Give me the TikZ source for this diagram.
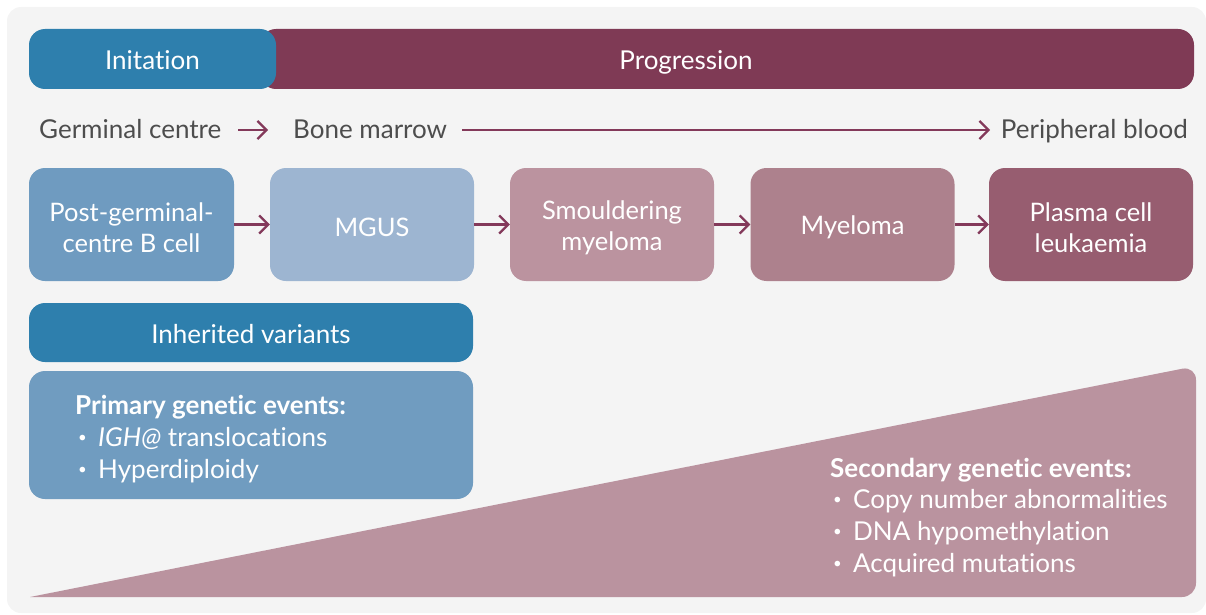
\documentclass[tikz,border=0pt]{standalone}
\usepackage{fontspec}
\setmainfont{Lato}[Ligatures={NoCommon}]
\usetikzlibrary{arrows.meta}
\definecolor{bgc}{HTML}{F4F4F4}
\definecolor{initblue}{HTML}{2E7FAD}
\definecolor{prog}{HTML}{7F3A55}
\definecolor{arrowc}{HTML}{83395A}
\definecolor{txtgray}{HTML}{4D4D4D}
\definecolor{bA}{HTML}{6F9BC0}
\definecolor{bB}{HTML}{9DB5D1}
\definecolor{bC}{HTML}{BB939F}
\definecolor{bD}{HTML}{AD818D}
\definecolor{bE}{HTML}{975D70}
\definecolor{prim}{HTML}{709CC0}
\definecolor{tri}{HTML}{BA939F}
\tikzset{
  stagebox/.style={rounded corners=16pt, minimum width=204pt, minimum height=113pt, inner sep=0pt},
  stagetext/.style={text=white, align=center, font=\fontsize{25.5}{31}\selectfont, inner sep=0pt},
  barbox/.style={rounded corners=16pt, inner sep=0pt},
  flowarrow/.style={draw=arrowc, line width=2.3pt, -{Straight Barb[length=9pt,width=18pt]}},
  rowlabel/.style={text=txtgray, font=\fontsize{26}{30}\selectfont, inner sep=0pt},
  whitetxt/.style={text=white, font=\fontsize{26}{30}\selectfont, inner sep=0pt},
}
\newcommand{\bul}{\makebox[23pt][l]{\hspace{3pt}\raisebox{3.5pt}{\fontsize{15}{15}\selectfont •}}}
\begin{document}
\begin{tikzpicture}[x=1pt,y=-1pt]
\useasboundingbox (0,0) rectangle (1206,615);
\fill[bgc, rounded corners=14pt] (7,7) rectangle (1206,613);
% top bars
\node[barbox, fill=prog, minimum width=934pt, minimum height=60pt] (progbar) at (727,59) {};
\node[barbox, fill=initblue, minimum width=247pt, minimum height=60pt] (initbar) at (152.5,59) {};
\node[whitetxt, anchor=base] (inittxt) at (152.5,70) {Initation};
\node[whitetxt, anchor=base] (progtxt) at (686,70) {Progression};
% location row
\node[rowlabel, anchor=base west] (germ) at (39,139) {Germinal centre};
\node[rowlabel, anchor=base west] (bone) at (293,139) {Bone marrow};
\node[rowlabel, anchor=base east] (blood) at (1188,139) {Peripheral blood};
\coordinate (a1s) at (238,130);
\coordinate (a1e) at (268,130);
\coordinate (a2s) at (462,130);
\coordinate (a2e) at (990,130);
\draw[flowarrow] (a1s) -- (a1e);
\draw[flowarrow] (a2s) -- (a2e);
% stage boxes
\node[stagebox, fill=bA, minimum width=205pt] (s1) at (131.5,224.5) {};
\node[stagebox, fill=bB] (s2) at (372,224.5) {};
\node[stagebox, fill=bC] (s3) at (612,224.5) {};
\node[stagebox, fill=bD] (s4) at (852.5,224.5) {};
\node[stagebox, fill=bE] (s5) at (1091,224.5) {};
\node[stagetext] (t1) at ([yshift=-3pt]s1.center) {Post-germinal-\\centre B cell};
\node[stagetext] (t2) at ([yshift=-3pt]s2.center) {MGUS};
\node[stagetext] (t3) at ([yshift=-3pt]s3.center) {Smouldering\\myeloma};
\node[stagetext] (t4) at ([yshift=-3pt]s4.center) {Myeloma};
\node[stagetext] (t5) at ([yshift=-3pt]s5.center) {Plasma cell\\leukaemia};
\draw[flowarrow] (s1) -- (s2);
\draw[flowarrow] (s2) -- (s3);
\draw[flowarrow] (s3) -- (s4);
\draw[flowarrow] (s4) -- (s5);
% inherited / primary
\node[barbox, fill=initblue, minimum width=444pt, minimum height=59pt] (inh) at (251,332.5) {};
\node[whitetxt, anchor=base] (inhtxt) at (251,343) {Inherited variants};
\node[barbox, fill=prim, minimum width=444pt, minimum height=128pt] (primbox) at (251,435) {};
\node[whitetxt, anchor=base west, font=\fontsize{26}{30}\bfseries] (p0) at (75,414) {Primary genetic events:};
\node[whitetxt, anchor=base west] (p1) at (75,446) {\bul\textit{IGH@} translocations};
\node[whitetxt, anchor=base west] (p2) at (75,478) {\bul Hyperdiploidy};
% triangle
\fill[tri] (30,597) [rounded corners=14pt] -- (1196,366) -- (1196,597) [sharp corners] -- cycle;
\node[whitetxt, anchor=base west, font=\fontsize{26}{30}\bfseries] (q0) at (830,477) {Secondary genetic events:};
\node[whitetxt, anchor=base west] (q1) at (830,508) {\bul Copy number abnormalities};
\node[whitetxt, anchor=base west] (q2) at (830,540) {\bul DNA hypomethylation};
\node[whitetxt, anchor=base west] (q3) at (830,572) {\bul Acquired mutations};
\end{tikzpicture}
\end{document}
